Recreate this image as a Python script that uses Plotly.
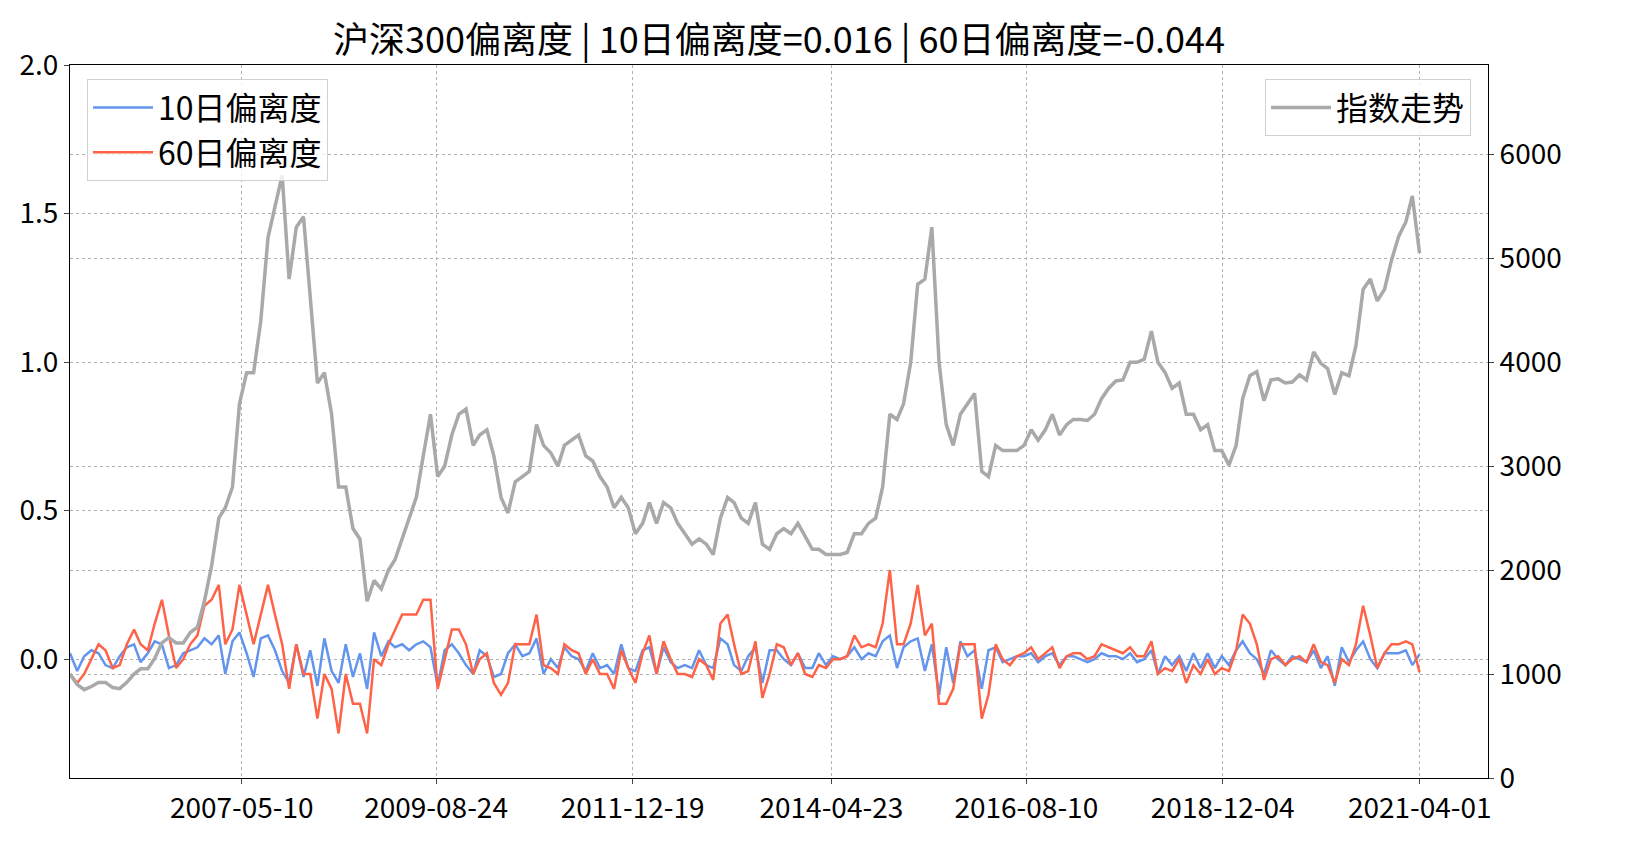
import pandas as pd
import plotly.graph_objects as go

dates = pd.date_range("2005-04-30", "2021-03-31", freq="ME")

index_vals = [
 1000, 900, 850, 880, 920, 920, 870, 860, 920,
 1000, 1050, 1050, 1150, 1300, 1350, 1300, 1300, 1400, 1450, 1700, 2040,
 2500, 2600, 2800, 3600, 3900, 3900, 4400, 5200, 5500, 5800, 4800, 5300,
 5400, 4600, 3800, 3900, 3500, 2800, 2800, 2400, 2300, 1700, 1900, 1820,
 2000, 2100, 2300, 2500, 2700, 3100, 3500, 2900, 3000, 3300, 3500, 3550,
 3200, 3300, 3350, 3100, 2700, 2550, 2850, 2900, 2950, 3400, 3200, 3130,
 3000, 3200, 3250, 3300, 3100, 3050, 2900, 2800, 2600, 2700, 2600, 2350,
 2450, 2650, 2450, 2650, 2600, 2450, 2350, 2250, 2300, 2250, 2150, 2500,
 2700, 2650, 2500, 2450, 2650, 2250, 2200, 2350, 2400, 2350, 2450, 2330,
 2200, 2200, 2150, 2150, 2150, 2170, 2350, 2350, 2450, 2500, 2800, 3500,
 3450, 3600, 4000, 4750, 4800, 5300, 4000, 3400, 3200, 3500, 3600, 3700,
 2950, 2900, 3200, 3150, 3150, 3150, 3200, 3350, 3250, 3350, 3500, 3300,
 3400, 3450, 3450, 3440, 3500, 3650, 3750, 3820, 3830, 4000, 4000, 4030,
 4300, 4000, 3900, 3750, 3800, 3500, 3500, 3350, 3400, 3150, 3150, 3010,
 3200, 3650, 3870, 3910, 3630, 3830, 3840, 3800, 3810, 3880, 3830, 4100,
 3990, 3940, 3690, 3900, 3870, 4160, 4700, 4800, 4590, 4700, 4980, 5210,
 5350, 5600, 5050,
]

dev60 = [
 -0.05, -0.08, -0.05, 0.0, 0.05, 0.03, -0.03, -0.02, 0.05,
 0.1, 0.05, 0.03, 0.12, 0.2, 0.08, -0.03, 0.0, 0.05, 0.08, 0.18, 0.2,
 0.25, 0.05, 0.1, 0.25, 0.15, 0.05, 0.15, 0.25, 0.15, 0.05, -0.1, 0.05,
 -0.05, -0.05, -0.2, -0.05, -0.1, -0.25, -0.05, -0.15, -0.15, -0.25, 0.0, -0.02,
 0.05, 0.1, 0.15, 0.15, 0.15, 0.2, 0.2, -0.1, 0.0, 0.1, 0.1, 0.05,
 -0.05, 0.0, 0.02, -0.08, -0.12, -0.08, 0.05, 0.05, 0.05, 0.15, -0.02, -0.03,
 -0.05, 0.05, 0.03, 0.02, -0.05, 0.0, -0.05, -0.05, -0.1, 0.03, -0.03, -0.08,
 0.02, 0.08, -0.05, 0.06, 0.0, -0.05, -0.05, -0.06, 0.0, -0.02, -0.07, 0.12,
 0.15, 0.05, -0.05, -0.04, 0.06, -0.13, -0.05, 0.05, 0.04, -0.02, 0.02, -0.05,
 -0.06, -0.02, -0.03, 0.0, 0.0, 0.01, 0.08, 0.04, 0.05, 0.04, 0.12, 0.3,
 0.05, 0.05, 0.12, 0.25, 0.08, 0.12, -0.15, -0.15, -0.1, 0.05, 0.05, 0.05,
 -0.2, -0.12, 0.05, 0.0, -0.02, 0.01, 0.02, 0.04, 0.0, 0.02, 0.04, -0.03,
 0.01, 0.02, 0.02, 0.0, 0.01, 0.05, 0.04, 0.03, 0.02, 0.04, 0.01, 0.01,
 0.06, -0.05, -0.03, -0.04, 0.0, -0.08, -0.02, -0.05, 0.0, -0.05, -0.03, -0.04,
 0.03, 0.15, 0.12, 0.05, -0.07, 0.0, 0.01, -0.02, 0.0, 0.01, -0.01, 0.05,
 -0.01, -0.02, -0.08, 0.0, -0.02, 0.05, 0.18, 0.08, -0.03, 0.02, 0.05, 0.05,
 0.06, 0.05, -0.044,
]

dev10 = [
 0.02, -0.04, 0.01, 0.03, 0.02, -0.02, -0.03, 0.01, 0.04,
 0.05, -0.01, 0.02, 0.06, 0.05, -0.03, -0.02, 0.02, 0.03, 0.04, 0.07, 0.05,
 0.08, -0.05, 0.06, 0.09, 0.02, -0.06, 0.07, 0.08, 0.03, -0.04, -0.08, 0.05,
 -0.06, 0.03, -0.09, 0.07, -0.04, -0.08, 0.05, -0.06, 0.02, -0.10, 0.09, 0.01,
 0.06, 0.04, 0.05, 0.03, 0.05, 0.06, 0.04, -0.09, 0.03, 0.05, 0.02, -0.02,
 -0.05, 0.03, 0.01, -0.06, -0.05, 0.02, 0.05, 0.01, 0.02, 0.07, -0.05, 0.0,
 -0.03, 0.04, 0.01, 0.0, -0.04, 0.02, -0.03, -0.02, -0.05, 0.05, -0.03, -0.04,
 0.03, 0.04, -0.05, 0.04, -0.01, -0.03, -0.02, -0.03, 0.03, -0.02, -0.03, 0.07,
 0.05, -0.02, -0.04, 0.01, 0.04, -0.08, 0.03, 0.03, 0.0, -0.02, 0.02, -0.03,
 -0.03, 0.02, -0.02, 0.01, 0.0, 0.01, 0.04, 0.0, 0.02, 0.01, 0.06, 0.08,
 -0.03, 0.04, 0.06, 0.07, -0.04, 0.05, -0.12, 0.04, -0.08, 0.06, 0.01, 0.03,
 -0.10, 0.03, 0.04, -0.01, 0.0, 0.01, 0.01, 0.02, -0.01, 0.01, 0.02, -0.02,
 0.01, 0.01, 0.0, -0.01, 0.0, 0.02, 0.01, 0.01, 0.0, 0.02, -0.01, 0.0,
 0.03, -0.05, 0.01, -0.02, 0.01, -0.04, 0.02, -0.03, 0.02, -0.03, 0.01, -0.02,
 0.03, 0.06, 0.02, 0.0, -0.05, 0.03, 0.0, -0.02, 0.01, 0.0, -0.01, 0.03,
 -0.03, 0.01, -0.09, 0.04, -0.01, 0.03, 0.06, 0.0, -0.03, 0.02, 0.02, 0.02,
 0.03, -0.02, 0.016,
]

tick_dates = ["2007-05-10", "2009-08-24", "2011-12-19", "2014-04-23",
              "2016-08-10", "2018-12-04", "2021-04-01"]

FONT = "Noto Sans CJK SC"
fig = go.Figure()
fig.add_trace(go.Scatter(x=dates, y=index_vals, name="指数走势", yaxis="y2",
                         line=dict(color="#a9a9a9", width=3.5), legend="legend2"))
fig.add_trace(go.Scatter(x=dates, y=dev10, name="10日偏离度",
                         line=dict(color="#6495ed", width=2.5), legend="legend"))
fig.add_trace(go.Scatter(x=dates, y=dev60, name="60日偏离度",
                         line=dict(color="#ff6347", width=2.5), legend="legend"))

grid = dict(showgrid=True, gridcolor="#b0b0b0", griddash="dot", gridwidth=1)
fig.update_layout(
    width=1641, height=863, plot_bgcolor="white", paper_bgcolor="white",
    font=dict(family=FONT, size=28, color="black"),
    margin=dict(l=60, r=161, t=57, b=93),
    title=dict(text="沪深300偏离度 | 10日偏离度=0.016 | 60日偏离度=-0.044",
               x=0.5, xref="paper", y=0.962, yanchor="middle", font=dict(size=36)),
    xaxis=dict(range=["2005-04-30", "2022-01-20"], tickvals=tick_dates, ticktext=tick_dates,
               showline=True, mirror=True, linecolor="black", ticks="outside",
               zeroline=False, **grid),
    yaxis=dict(range=[-0.4, 2.0], tickvals=[0, 0.5, 1.0, 1.5, 2.0],
               ticktext=["0.0", "0.5", "1.0", "1.5", "2.0"],
               showline=True, mirror=True, linecolor="black", ticks="outside",
               zeroline=False, **grid),
    yaxis2=dict(range=[0, 6860], overlaying="y", side="right",
                tickvals=[0, 1000, 2000, 3000, 4000, 5000, 6000],
                ticks="outside", zeroline=False, showline=True, linecolor="black", **grid),
    legend=dict(x=0.012, y=0.98, xanchor="left", yanchor="top", font=dict(size=32),
                itemwidth=60, bordercolor="#d0d0d0", borderwidth=1,
                bgcolor="rgba(255,255,255,0.8)"),
    legend2=dict(x=0.988, y=0.98, xanchor="right", yanchor="top", font=dict(size=32),
                 itemwidth=60, bordercolor="#d0d0d0", borderwidth=1,
                 bgcolor="rgba(255,255,255,0.8)"),
)
fig.write_html("out.html")
